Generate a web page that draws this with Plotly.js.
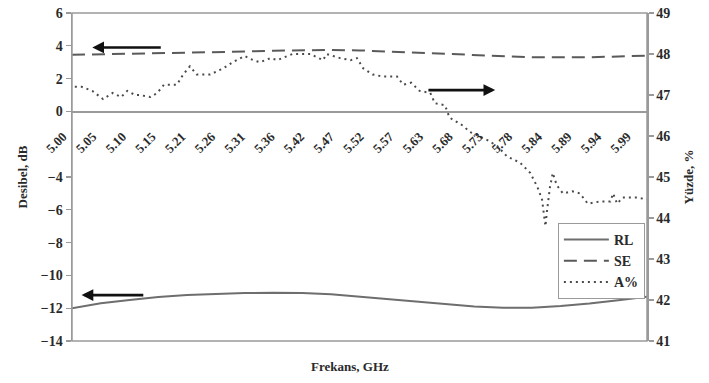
<!DOCTYPE html>
<html>
<head>
<meta charset="utf-8">
<script src="https://cdn.plot.ly/plotly-3.0.1.min.js"></script>
<style>
  html, body { margin: 0; padding: 0; background: #fff; }
  #chart { width: 709px; height: 383px; }
</style>
</head>
<body>
<div id="chart"></div>
<script>
// Frequency tick labels (GHz) along the zero line
const xTickLabels = ['5.00', '5.05', '5.10', '5.15', '5.21', '5.26', '5.31', '5.36', '5.42', '5.47',
                     '5.52', '5.57', '5.63', '5.68', '5.73', '5.78', '5.84', '5.89', '5.94', '5.99'];

// Left axis (dB) tick values; -2 is left out because the 5.00 label sits there
const dbTicks = [-14, -12, -10, -8, -6, -4, 0, 2, 4, 6];

// Return loss (RL) and shielding effectiveness (SE), dB
const freqDB = [5.000, 5.051, 5.102, 5.153, 5.204, 5.255, 5.306, 5.357, 5.408, 5.459, 5.510,
                5.561, 5.611, 5.662, 5.713, 5.764, 5.815, 5.866, 5.917, 5.968, 6.019];
const rl = [-12.0, -11.7, -11.5, -11.32, -11.2, -11.12, -11.08, -11.06, -11.08, -11.15, -11.3,
            -11.45, -11.6, -11.75, -11.9, -11.97, -11.97, -11.87, -11.72, -11.52, -11.3];
const se = [3.45, 3.48, 3.5, 3.52, 3.55, 3.6, 3.65, 3.7, 3.73, 3.75, 3.72,
            3.65, 3.6, 3.52, 3.45, 3.35, 3.3, 3.3, 3.3, 3.35, 3.4];

// Absorption percentage (A%), right axis
const freqA = [5.005, 5.017, 5.036, 5.055, 5.072, 5.087, 5.098, 5.112, 5.120, 5.139,
               5.151, 5.163, 5.186, 5.197, 5.209, 5.221, 5.245, 5.268, 5.285, 5.306,
               5.321, 5.333, 5.352, 5.364, 5.391, 5.422, 5.445, 5.451, 5.475, 5.494,
               5.505, 5.516, 5.533, 5.551, 5.576, 5.587, 5.601, 5.616, 5.635, 5.643,
               5.661, 5.669, 5.693, 5.705, 5.736, 5.754, 5.771, 5.794, 5.812, 5.825,
               5.833, 5.839, 5.842, 5.847, 5.852, 5.859, 5.870, 5.887, 5.900, 5.914,
               5.935, 5.954, 5.959, 5.966, 5.976, 6.002, 6.019];
const pctA = [47.2, 47.2, 47.1, 46.9, 47.05, 46.95, 47.1, 47.0, 47.0, 46.95,
              47.05, 47.25, 47.25, 47.5, 47.7, 47.5, 47.5, 47.65, 47.8, 47.95,
              47.85, 47.8, 47.9, 47.85, 48.0, 48.0, 47.85, 48.0, 47.9, 47.85,
              47.9, 47.65, 47.5, 47.45, 47.45, 47.25, 47.3, 47.1, 47.05, 46.8,
              46.75, 46.45, 46.25, 46.1, 45.9, 45.75, 45.5, 45.35, 45.1, 44.75,
              44.45, 43.8, 44.2, 44.75, 45.1, 44.8, 44.6, 44.65, 44.6, 44.35,
              44.4, 44.4, 44.6, 44.35, 44.5, 44.5, 44.45];

const serif = 'Liberation Serif, Times New Roman, serif';
const axisGray = '#9a9a9a';
const textColor = '#2a2a2a';

const traces = [
  {
    x: freqDB, y: rl, name: 'RL', type: 'scatter', mode: 'lines',
    line: { color: '#6e6e6e', width: 2 }, yaxis: 'y'
  },
  {
    x: freqDB, y: se, name: 'SE', type: 'scatter', mode: 'lines',
    line: { color: '#5a5a5a', width: 2, dash: '13px,7px' }, yaxis: 'y'
  },
  {
    x: freqA, y: pctA, name: 'A%', type: 'scatter', mode: 'lines',
    line: { color: '#4a4a4a', width: 2, dash: '2px,4px' }, yaxis: 'y2'
  }
];

// Frequency ticks every 1/19 GHz starting at 5 GHz
const xTickVals = xTickLabels.map((_, i) => 5 + i / (xTickLabels.length - 1));

function arrow(x, y, ax, ay, yref) {
  return {
    x: x, y: y, ax: ax, ay: ay, xref: 'x', yref: yref, axref: 'x', ayref: yref,
    text: '', showarrow: true, arrowhead: 2, arrowsize: 0.9, arrowwidth: 2.6,
    arrowcolor: '#111', standoff: 0, startstandoff: 0
  };
}

const layout = {
  width: 709, height: 383,
  margin: { l: 72, r: 62, t: 13, b: 42 },
  paper_bgcolor: '#fff', plot_bgcolor: '#fff',
  font: { family: serif, color: textColor, size: 13, weight: 'bold' },
  showlegend: true,
  legend: {
    x: 0.845, y: 0.36, xanchor: 'left', yanchor: 'top',
    bordercolor: axisGray, borderwidth: 1, bgcolor: '#fff',
    font: { family: serif, size: 14, weight: 'bold', color: textColor },
    itemwidth: 45, tracegroupgap: 0
  },
  xaxis: {
    range: [5, 6.019], anchor: 'free', position: 0.7,
    showline: true, linecolor: axisGray, linewidth: 1.5,
    tickmode: 'array', tickvals: xTickVals, ticktext: xTickLabels,
    tickangle: -45, ticks: '', ticklabelstandoff: 11, ticklabelshift: -9,
    showgrid: false, zeroline: false,
    tickfont: { family: serif, size: 13, weight: 'bold', color: textColor }
  },
  yaxis: {
    range: [-14, 6], tickmode: 'array', tickvals: dbTicks,
    showline: true, linecolor: axisGray, linewidth: 1.5, mirror: false,
    ticks: 'outside', ticklen: 5, tickcolor: axisGray, tickwidth: 1.2,
    showgrid: false, zeroline: false,
    tickfont: { family: serif, size: 14, weight: 'bold', color: textColor },
    title: { text: 'Desibel, dB', standoff: 10,
             font: { family: serif, size: 13, weight: 'bold', color: textColor } }
  },
  yaxis2: {
    range: [41, 49], dtick: 1, overlaying: 'y', side: 'right',
    showline: true, linecolor: axisGray, linewidth: 1.5,
    ticks: 'outside', ticklen: 5, tickcolor: axisGray, tickwidth: 1.2,
    showgrid: false, zeroline: false,
    tickfont: { family: serif, size: 14, weight: 'bold', color: textColor },
    title: { text: 'Yüzde, %', standoff: 14,
             font: { family: serif, size: 13, weight: 'bold', color: textColor } }
  },
  shapes: [
    { type: 'rect', xref: 'paper', yref: 'paper', x0: 0, x1: 1, y0: 0, y1: 1,
      line: { color: axisGray, width: 1.5 } }
  ],
  annotations: [
    { text: 'Frekans, GHz', xref: 'paper', yref: 'paper', x: 0.483, y: -0.05,
      xanchor: 'center', yanchor: 'top', showarrow: false,
      font: { family: serif, size: 13, weight: 'bold', color: textColor } },
    arrow(5.036, 3.9, 5.160, 3.9, 'y'),
    arrow(5.750, 47.12, 5.629, 47.12, 'y2'),
    arrow(5.017, -11.2, 5.129, -11.2, 'y')
  ]
};

Plotly.newPlot('chart', traces, layout, { displayModeBar: false, staticPlot: true });
</script>
</body>
</html>
